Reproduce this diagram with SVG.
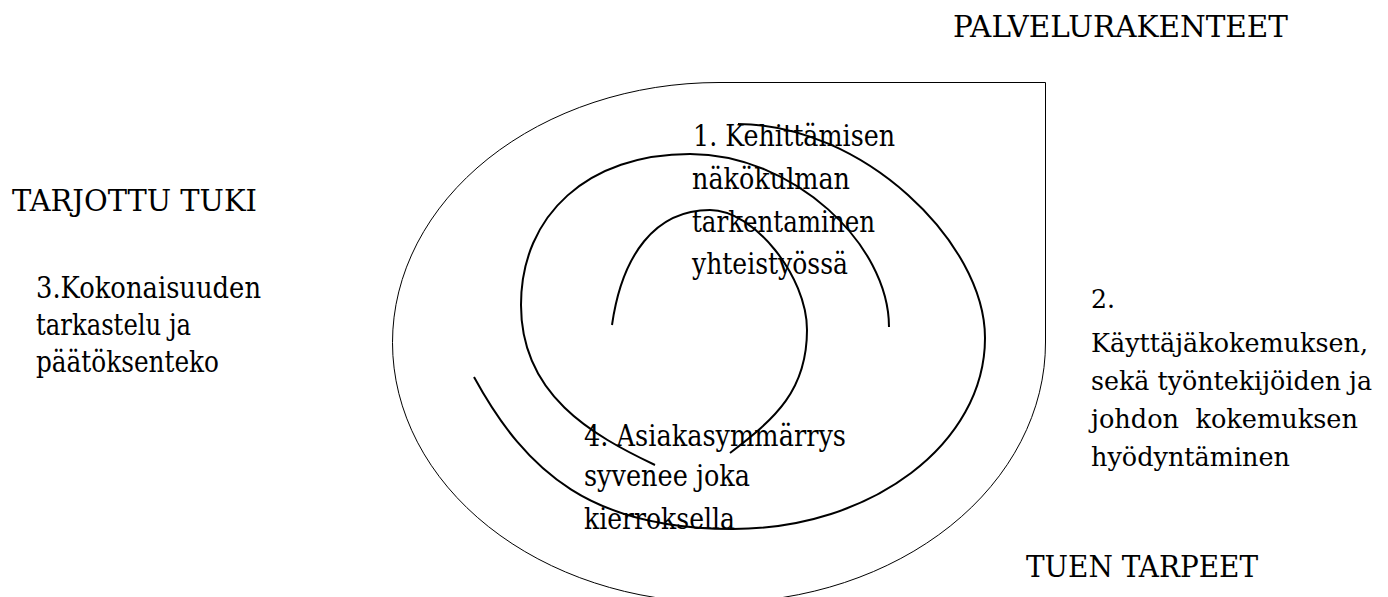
<svg xmlns="http://www.w3.org/2000/svg" width="1388" height="597" viewBox="0 0 1388 597">
  <style>
    .outline { fill: none; stroke: #000; stroke-width: 1; }
    .spiral { fill: none; stroke: #000; stroke-width: 2; stroke-linecap: butt; }
    text { font-family: 'DejaVu Serif', 'Liberation Serif', serif; font-size: 29px; fill: #000; white-space: pre; }
    #step-2 text { font-size: 26.5px; }
  </style>
  <rect width="1388" height="597" fill="#fff"/>

  <!-- teardrop frame: ellipse with a square top-right corner -->
  <g id="frame">
    <path class="outline" d="M 719 82.5 L 1045.5 82.5 L 1045.5 342 A 326.5 260 0 1 1 719 82.5 Z"/>
  </g>

  <!-- spiral, drawn as three nested open arcs -->
  <g id="spiral">
    <path id="arc-inner" class="spiral" d="M 612 325 C 622 255 655 210 710 210 C 753.6 210 807 276 807 330 C 807 390 776 418 730 453"/>
    <path id="arc-middle" class="spiral" d="M 889 327 C 889 244 793 154 690 154 C 589 154 521 214 521 305 C 521 395 592 435 655 465"/>
    <path id="arc-outer" class="spiral" d="M 738 124 C 862 124 985 242 985 338 C 985 443.5 872 529 733 529 C 593 529 527 474 474 377"/>
  </g>

  <!-- labels; textLength keeps each line to its set width -->
  <g id="labels">
    <g id="label-palvelurakenteet">
      <text x="953" y="37" textLength="335" lengthAdjust="spacingAndGlyphs">PALVELURAKENTEET</text>
    </g>

    <g id="label-tarjottu-tuki">
      <text x="12" y="211" textLength="245" lengthAdjust="spacingAndGlyphs">TARJOTTU TUKI</text>
    </g>

    <g id="step-3">
      <text x="36" y="298" textLength="225" lengthAdjust="spacingAndGlyphs">3.Kokonaisuuden</text>
      <text x="36" y="335" textLength="155" lengthAdjust="spacingAndGlyphs">tarkastelu ja</text>
      <text x="36" y="372" textLength="183" lengthAdjust="spacingAndGlyphs">päätöksenteko</text>
    </g>

    <g id="step-1">
      <text x="693" y="146" textLength="202" lengthAdjust="spacingAndGlyphs">1. Kehittämisen</text>
      <text x="692" y="189" textLength="158" lengthAdjust="spacingAndGlyphs">näkökulman</text>
      <text x="692" y="232" textLength="183" lengthAdjust="spacingAndGlyphs">tarkentaminen</text>
      <text x="692" y="274" textLength="156" lengthAdjust="spacingAndGlyphs">yhteistyössä</text>
    </g>

    <g id="step-2">
      <text x="1091" y="308" textLength="24" lengthAdjust="spacingAndGlyphs">2.</text>
      <text x="1091" y="352" textLength="277" lengthAdjust="spacingAndGlyphs">Käyttäjäkokemuksen,</text>
      <text x="1091" y="390" textLength="281" lengthAdjust="spacingAndGlyphs">sekä työntekijöiden ja</text>
      <text x="1091" y="428" textLength="267" lengthAdjust="spacingAndGlyphs">johdon  kokemuksen</text>
      <text x="1091" y="466" textLength="199" lengthAdjust="spacingAndGlyphs">hyödyntäminen</text>
    </g>

    <g id="step-4">
      <text x="584" y="446" textLength="262" lengthAdjust="spacingAndGlyphs">4. Asiakasymmärrys</text>
      <text x="584" y="486" textLength="166" lengthAdjust="spacingAndGlyphs">syvenee joka</text>
      <text x="584" y="529" textLength="151" lengthAdjust="spacingAndGlyphs">kierroksella</text>
    </g>

    <g id="label-tuen-tarpeet">
      <text x="1026" y="577" textLength="232" lengthAdjust="spacingAndGlyphs">TUEN TARPEET</text>
    </g>
  </g>
</svg>
